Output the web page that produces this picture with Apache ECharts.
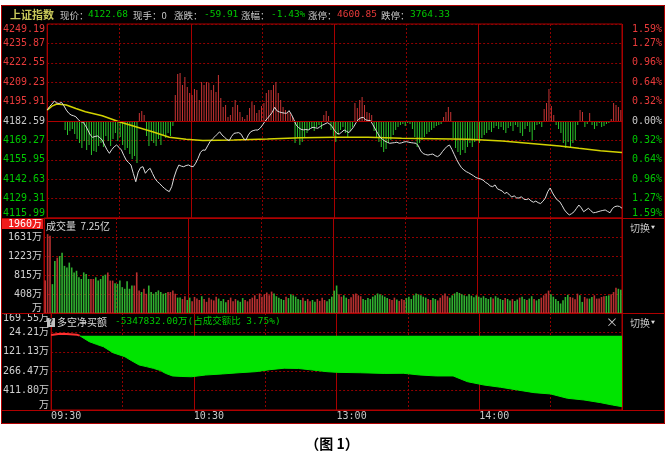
<!DOCTYPE html>
<html><head><meta charset="utf-8">
<script src="https://cdn.jsdelivr.net/npm/echarts@6/dist/echarts.min.js"></script>
<style>html,body{margin:0;padding:0;background:#fff;}#c{width:668px;height:463px;}</style>
</head><body><div id="c"></div>
<script>
// ---------- data ----------
const prevClose = 4182.59;
const priceStep = 13.32;
const priceTickLabels = ['4115.99','4129.31','4142.63','4155.95','4169.27','4182.59','4195.91','4209.23','4222.55','4235.87','4249.19'];
const pctTickLabels = ['1.59%','1.27%','0.96%','0.64%','0.32%','0.00%','0.32%','0.64%','0.96%','1.27%','1.59%'];
const volTickLabels = ['万','408万','815万','1223万','1631万',''];
const netTickLabels = ['万','411.80万','266.47万','121.13万','24.21万','169.55万'];
const timeLabels = ['09:30','10:30','13:00','14:00',''];

// minute-by-minute index price (09:30 .. 15:00)
const price = [
4190.1,4192.5,4194.2,4196.3,4195.0,4194.6,4195.4,4193.0,4190.1,4188.0,
4186.7,4186.2,4185.5,4183.5,4182.1,4181.8,4179.5,4176.4,4173.0,4171.4,
4172.0,4172.3,4171.2,4169.5,4166.0,4162.8,4160.4,4163.0,4164.9,4166.1,
4164.5,4162.7,4159.0,4155.8,4154.0,4152.4,4146.5,4140.9,4147.5,4150.6,
4151.2,4146.7,4148.8,4150.1,4146.5,4143.2,4141.0,4139.6,4137.8,4136.3,
4135.0,4134.1,4137.5,4144.0,4148.9,4152.4,4151.6,4151.2,4152.0,4152.4,
4151.5,4151.2,4153.6,4157.0,4161.0,4162.7,4162.5,4165.5,4168.4,4170.2,
4171.8,4173.5,4175.2,4173.0,4171.5,4170.0,4169.1,4172.0,4174.1,4174.4,
4174.6,4173.5,4170.5,4169.5,4173.0,4175.2,4176.0,4176.4,4176.4,4177.8,
4180.0,4182.5,4184.4,4186.5,4188.6,4192.0,4189.5,4188.8,4188.3,4188.0,
4187.9,4189.7,4187.0,4183.5,4179.8,4178.0,4176.9,4176.5,4176.8,4176.4,
4177.5,4178.3,4177.9,4177.6,4178.8,4179.8,4180.6,4181.4,4180.5,4178.7,
4176.0,4174.1,4173.7,4175.0,4176.4,4175.5,4174.6,4176.5,4178.7,4181.5,
4183.8,4184.8,4185.1,4183.3,4183.0,4182.8,4180.0,4177.0,4174.1,4171.5,
4170.0,4168.8,4168.0,4167.3,4167.5,4167.7,4168.0,4167.3,4167.6,4168.2,
4168.4,4168.0,4167.7,4167.5,4167.3,4165.5,4162.0,4160.2,4159.6,4159.2,
4159.6,4159.9,4158.8,4158.1,4159.2,4161.5,4163.5,4165.2,4166.1,4163.0,
4159.5,4156.0,4153.0,4150.5,4149.0,4147.8,4147.0,4146.0,4145.0,4143.8,
4143.2,4142.8,4142.0,4140.5,4139.5,4138.0,4137.5,4138.7,4136.0,4135.3,
4134.5,4132.8,4133.6,4131.8,4130.4,4131.2,4129.8,4129.7,4130.6,4128.9,
4128.6,4129.2,4127.8,4126.8,4127.6,4126.5,4125.9,4127.5,4129.7,4134.0,
4136.6,4133.2,4130.5,4128.3,4127.2,4124.5,4121.5,4119.5,4118.1,4119.0,
4120.3,4122.6,4124.9,4123.0,4120.3,4121.5,4122.7,4121.0,4119.6,4119.8,
4120.3,4120.8,4121.2,4121.5,4120.5,4119.6,4122.5,4123.8,4124.2,4123.9,
4122.7];

// average price line
const avgMinutes = [0,2,4,8,12,16,23,30,37,44,51,58,65,78,92,106,120,134,148,162,176,190,214,222,231,240];
const avgPrice   = [4190.1,4192.8,4194.3,4193.6,4191.2,4189.0,4186.2,4182.1,4178.7,4175.2,4171.4,4170.0,4169.2,4169.5,4170.2,4171.1,4171.4,4171.4,4170.7,4170.4,4170.0,4168.9,4165.4,4163.8,4162.2,4160.9];

// red/green strength bars around the zero line
const lead = [
0,0,0,0,0,0,0,-9,-14,-10,
-8,-13,-18,-22,-27,-20,-29,-24,-34,-30,
-31,-25,-22,-26,-15,-20,-25,-18,-12,-20,
-16,-24,-29,-27,-33,-38,-35,-42,8,10,
6,-15,-25,-20,-22,-25,-18,-24,-15,-17,
-12,-15,-5,26,47,48,36,44,34,28,
26,32,31,21,39,36,39,38,31,36,
29,46,23,14,16,4,6,14,21,16,
9,4,2,6,13,19,16,8,11,15,
18,28,31,31,36,39,28,21,14,11,
9,8,4,-22,-17,-24,-21,-16,-12,-9,
-7,-10,-6,-4,-8,6,10,5,-9,-15,
-21,-14,-9,-6,-12,-16,-10,-6,18,13,
21,24,16,9,8,6,-10,-17,-21,-26,
-31,-28,-22,-19,-14,-9,-6,-4,-3,-5,
-2,-3,-8,-16,-26,-22,-19,-16,-13,-11,
-9,-7,-5,-4,-3,4,9,14,9,-17,
-27,-31,-34,-29,-32,-26,-22,-26,-21,-19,
-22,-17,-14,-12,-9,-11,-7,-5,-8,-6,
-9,-12,-7,-5,-10,-4,-6,-12,-15,-8,
-5,-11,-19,-9,-4,-3,-6,12,18,32,
15,6,-4,-8,-12,-22,-27,-21,-27,-22,
-19,-4,11,9,-6,-3,8,-4,-8,-5,
-2,-6,-5,-3,-2,2,18,16,14,11];

// per-minute volume (万)
const volume = [
700,1694,1659,620,1118,1188,1223,1293,1012,977,
1082,977,872,907,766,731,872,837,731,731,
731,766,696,731,801,823,872,696,696,639,
626,696,555,520,682,520,590,590,872,485,
450,520,414,590,450,414,450,485,450,414,
430,450,450,485,414,331,331,300,360,280,
330,250,345,310,280,360,300,240,330,290,
270,350,310,260,300,230,280,330,250,300,
270,240,320,280,250,300,330,380,300,420,
350,400,440,380,460,420,360,330,300,280,
350,320,400,380,350,300,280,330,260,300,
250,280,240,300,260,330,280,250,300,350,
480,590,400,350,380,330,300,340,400,420,
380,360,300,280,320,300,350,380,420,400,
380,350,320,300,280,330,290,260,300,280,
320,350,300,380,420,400,380,350,330,300,
280,320,300,270,330,380,420,360,330,380,
420,450,430,400,380,360,400,370,340,380,
350,330,360,320,300,340,310,360,330,300,
280,320,300,270,300,260,290,330,350,300,
280,310,360,300,270,300,330,380,420,480,
400,350,300,260,204,274,344,394,344,330,
295,415,380,238,344,309,309,344,380,309,
309,344,358,365,380,400,450,542,520,500];

// net buying (多空净买额, 万)
const netMinutes = [0,3,5,8,11,12,13,16,19,22,26,31,34,37,40,43,46,48,51,55,59,65,72,79,86,92,98,104,110,116,120,130,140,148,155,162,169,175,182,189,196,203,210,217,224,231,236,240];
const netValues  = [5,12,14,10,6,0,-12,-45,-65,-83,-128,-158,-190,-220,-232,-245,-262,-282,-302,-306,-308,-295,-287,-278,-270,-255,-244,-246,-258,-270,-275,-278,-283,-282,-295,-302,-302,-345,-370,-387,-407,-427,-437,-469,-482,-502,-520,-532];

// ---------- styling ----------
const MONO = "'DejaVu Sans Mono','Noto Sans CJK SC',monospace";
const CJK = "'Noto Sans CJK SC',sans-serif";
const RED = '#e83a3a', GREEN = '#00c800', GRAY = '#c8c8c8';
const BORDER = '#a80000';
const DASH = {color:'#900000', type:[2,2], width:1};
const BAR_RED = '#c83434', BAR_GREEN = '#2cc42c';
const VOL_RED = '#b83030', VOL_GREEN = '#30b030';

// ---------- series data built from arrays ----------
const pricePts = price.map((p,i)=>[i,p]);
const avgPts = avgMinutes.map((m,i)=>[m,avgPrice[i]]);
const leadPts = lead.map((v,i)=>({value:[i+0.5,v], itemStyle:{color: v>=0?BAR_RED:BAR_GREEN}}));
const volPts = volume.map((v,i)=>({value:[i+0.5,v], itemStyle:{color: price[i+1]>=price[i]?VOL_RED:VOL_GREEN}}));
const split = netValues.findIndex(v=>v<=0);
const netPos = netMinutes.slice(0,split+1).map((m,k)=>[m,netValues[k]]);
const netNeg = netMinutes.slice(split).map((m,k)=>[m,netValues[k+split]]);

function xAxes(gi, labels){
  const base = {type:'value', gridIndex:gi, min:0, max:240, position:'bottom',
    axisLine:{show:false, onZero:false}, axisTick:{show:false}, axisLabel:{show:false}};
  const solid = Object.assign({}, base, {interval:60, splitLine:{show:true, lineStyle:{color:BORDER, width:1}}});
  if (labels) {
    solid.axisLabel = {show:true, margin:1, align:'left', color:GRAY, fontFamily:MONO, fontSize:10,
      formatter: v => timeLabels[Math.round(v/60)] || ''};
  }
  return [Object.assign({}, base, {interval:30, splitLine:{show:true, lineStyle:DASH}}), solid];
}
function colorRich(labels, mid){
  return {
    formatter: v => { const i = Math.round(v)+mid; const k = i>mid?'r':(i<mid?'g':'w'); return '{'+k+'|'+labels[i]+'}'; },
    rich: {
      r:{color:RED, fontFamily:MONO, fontSize:10},
      g:{color:GREEN, fontFamily:MONO, fontSize:10},
      w:{color:GRAY, fontFamily:MONO, fontSize:10}
    }
  };
}

const leftPriceLabel = Object.assign({margin:2, verticalAlignMinLabel:'bottom', verticalAlignMaxLabel:'top'}, colorRich(priceTickLabels,5));
const rightPctLabel = Object.assign({margin:40, align:'right', verticalAlignMinLabel:'bottom', verticalAlignMaxLabel:'top'}, colorRich(pctTickLabels,5));

function txt(t, x, y, color, font, align){
  return {type:'text', x:x, y:y, z:60, silent:true, style:{text:t, fill:color, font:font, align:align||'left', verticalAlign:'middle'}};
}
const F9 = "9.5px " + CJK;
const FN = "9.5px " + MONO;

const graphics = [
  {type:'rect', z:-10, silent:true, shape:{x:1, y:5, width:664, height:419}, style:{fill:'#000'}},
  {type:'rect', z:50, silent:true, shape:{x:1.5, y:5.5, width:663, height:418}, style:{fill:null, stroke:'#b00000', lineWidth:1}},
  {type:'line', z:50, silent:true, shape:{x1:1.5, y1:218.5, x2:664.5, y2:218.5}, style:{stroke:'#b00000', lineWidth:1}},
  {type:'line', z:50, silent:true, shape:{x1:1.5, y1:313.5, x2:664.5, y2:313.5}, style:{stroke:'#b00000', lineWidth:1}},
  {type:'line', z:50, silent:true, shape:{x1:1.5, y1:410.5, x2:664.5, y2:410.5}, style:{stroke:'#b00000', lineWidth:1}},
  // header
  txt('上证指数', 10, 15, '#c8c85a', "bold 11px " + CJK),
  txt('现价：', 60, 15, GRAY, F9),
  txt('4122.68', 88, 15, GREEN, FN),
  txt('现手：0', 133, 15, GRAY, F9),
  txt('涨跌：', 174, 15, GRAY, F9),
  txt('-59.91', 204, 15, GREEN, FN),
  txt('涨幅：', 241, 15, GRAY, F9),
  txt('-1.43%', 271, 15, GREEN, FN),
  txt('涨停：', 308, 15, GRAY, F9),
  txt('4600.85', 337, 15, RED, FN),
  txt('跌停：', 381, 15, GRAY, F9),
  txt('3764.33', 410, 15, GREEN, FN),
  // volume panel
  {type:'rect', z:55, silent:true, shape:{x:2, y:219, width:41, height:10}, style:{fill:'#f01c1c'}},
  txt('1960万', 42, 224, '#ffffff', "10px " + MONO, 'right'),
  txt('成交量  7.25亿', 46, 226, '#d8d8d8', "10px " + CJK),
  txt('切换', 630, 228, GRAY, "10px " + CJK),
  txt('▼', 651, 227, '#e0e0e0', "4px " + CJK),
  // net panel
  {type:'rect', z:55, silent:true, shape:{x:47, y:318, width:8, height:9}, style:{fill:'#c0c0c0'}},
  txt('?', 51, 322.5, '#000', "bold 8px " + MONO, 'center'),
  txt('多空净买额', 57, 322, '#d8d8d8', "10px " + CJK),
  txt('-5347832.00万(占成交额比 3.75%)', 115, 322, GREEN, "9.5px " + MONO),
  txt('×', 612, 322, GRAY, "12px " + CJK, 'center'),
  txt('切换', 630, 323, GRAY, "10px " + CJK),
  txt('▼', 651, 322, '#e0e0e0', "4px " + CJK),
  // caption
  txt('（图 1）', 332, 444, '#000', "bold 14px " + CJK, 'center')
];

const option = {
  animation:false,
  backgroundColor:'#ffffff',
  graphic: graphics,
  grid:[
    {left:44, right:46, top:24, height:194, show:true, borderColor:BORDER, borderWidth:1, backgroundColor:'transparent'},
    {left:44, right:46, top:218, height:95, show:true, borderColor:BORDER, borderWidth:1, backgroundColor:'transparent'},
    {left:44, right:46, top:313, height:97, show:true, borderColor:BORDER, borderWidth:1, backgroundColor:'transparent'}
  ],
  xAxis: [].concat(xAxes(0,false), xAxes(1,false), xAxes(2,true)),
  yAxis:[
    {type:'value', gridIndex:0, min:-5, max:5, interval:1, position:'left', axisLine:{show:false}, axisTick:{show:false}, axisLabel:leftPriceLabel, splitLine:{show:true, lineStyle:DASH}},
    {type:'value', gridIndex:0, min:-5, max:5, interval:1, position:'right', axisLine:{show:false}, axisTick:{show:false}, axisLabel:rightPctLabel, splitLine:{show:false}},
    {type:'value', gridIndex:0, min:prevClose-5*priceStep, max:prevClose+5*priceStep, show:false, splitLine:{show:false}},
    {type:'value', gridIndex:0, min:-97, max:97, show:false, splitLine:{show:false}},
    {type:'value', gridIndex:1, min:0, max:2040, interval:408, position:'left', axisLine:{show:false}, axisTick:{show:false},
      axisLabel:{margin:2, color:'#d0d0d0', fontFamily:MONO, fontSize:10, verticalAlignMinLabel:'bottom', formatter: v => volTickLabels[Math.round(v/408)]},
      splitLine:{show:true, lineStyle:DASH}},
    {type:'value', gridIndex:2, min:-4, max:1, interval:1, position:'left', axisLine:{show:false}, axisTick:{show:false},
      axisLabel:{margin:2, color:'#d0d0d0', fontFamily:MONO, fontSize:10, verticalAlignMinLabel:'bottom', verticalAlignMaxLabel:'top', formatter: v => netTickLabels[Math.round(v)+4]},
      splitLine:{show:true, lineStyle:DASH}},
    {type:'value', gridIndex:2, min:-557.13, max:169.55, show:false, splitLine:{show:false}}
  ],
  series:[
    {type:'bar', xAxisIndex:0, yAxisIndex:3, data:leadPts, barWidth:1, z:2,
      markLine:{silent:true, symbol:['none','none'], label:{show:false}, lineStyle:{color:'#b00000', type:'solid', width:1}, data:[{yAxis:0}]}},
    {type:'line', xAxisIndex:0, yAxisIndex:2, data:avgPts, showSymbol:false, lineStyle:{color:'#d2d200', width:1.5}, z:3},
    {type:'line', xAxisIndex:0, yAxisIndex:2, data:pricePts, showSymbol:false, lineStyle:{color:'#dcdcdc', width:1}, z:4},
    {type:'bar', xAxisIndex:2, yAxisIndex:4, data:volPts, barWidth:1.6, z:2},
    {type:'line', xAxisIndex:4, yAxisIndex:6, data:netNeg, showSymbol:false, lineStyle:{color:'#00e400', width:1}, areaStyle:{color:'#00e400', opacity:1}, z:2},
    {type:'line', xAxisIndex:4, yAxisIndex:6, data:netPos, showSymbol:false, lineStyle:{color:'#ff3030', width:2}, z:3}
  ]
};
const chart = echarts.init(document.getElementById('c'));
chart.setOption(option);
</script>
</body></html>
